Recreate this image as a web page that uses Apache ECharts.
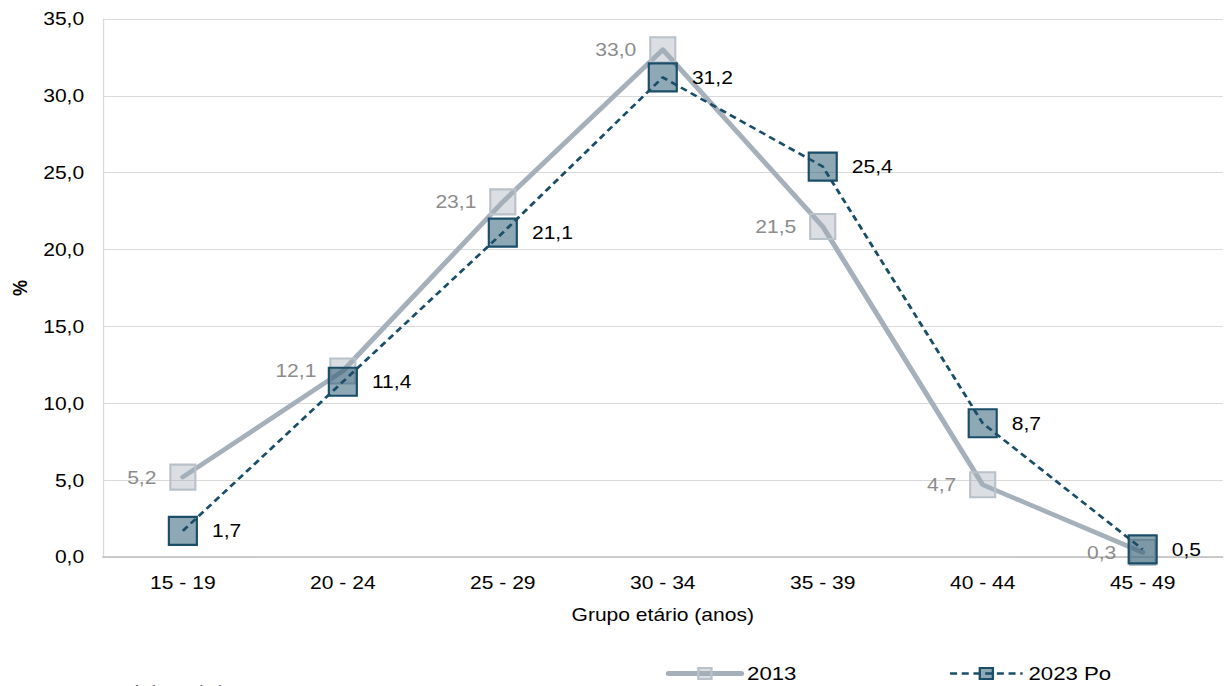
<!DOCTYPE html>
<html>
<head>
<meta charset="utf-8">
<script src="https://cdn.jsdelivr.net/npm/echarts@6/dist/echarts.min.js"></script>
<style>
  html, body { margin: 0; padding: 0; background: #fff; overflow: hidden; }
  #wrap { width: 1226px; height: 686px; overflow: hidden; }
  /* the chart is laid out on a narrower canvas and widened to get the broad lettering */
  #chart { width: 1048px; height: 686px; transform: scaleX(1.17); transform-origin: 0 0; }
</style>
</head>
<body>
<div id="wrap"><div id="chart"></div></div>
<script>
// Age groups (years)
const categories = ['15 - 19', '20 - 24', '25 - 29', '30 - 34', '35 - 39', '40 - 44', '45 - 49'];
// Percentage of births by mother's age group
const values2013 = [5.2, 12.1, 23.1, 33.0, 21.5, 4.7, 0.3];
const values2023 = [1.7, 11.4, 21.1, 31.2, 25.4, 8.7, 0.5];
const seriesNames = ['2013', '2023 Po'];
const yTicks = { min: 0, max: 35, interval: 5 };

const FONT = "'Liberation Sans', Arial, sans-serif";
const SX = 1.17; // horizontal widening of the container
const fmt = v => v.toFixed(1).replace('.', ',');

const chart = echarts.init(document.getElementById('chart'), null, { renderer: 'svg' });

chart.setOption({
  animation: false,
  backgroundColor: '#fff',
  textStyle: { fontFamily: FONT },
  grid: { left: 85, right: 3, top: 19, bottom: 129 },
  legend: {
    data: [
      { name: seriesNames[0], lineStyle: { width: 5 } },
      { name: seriesNames[1], lineStyle: { width: 2.5 } }
    ],
    left: 564,
    top: 659,
    itemWidth: 62,
    itemHeight: 14,
    itemGap: 130,
    textStyle: { fontFamily: FONT, fontSize: 19, color: '#000' }
  },
  xAxis: {
    type: 'category',
    data: categories,
    boundaryGap: true,
    name: 'Grupo etário (anos)',
    nameLocation: 'middle',
    nameGap: 49,
    nameTextStyle: { fontFamily: FONT, fontSize: 18, color: '#000' },
    axisLine: { show: true, lineStyle: { color: '#bfbfbf', width: 1.5 } },
    axisTick: { show: false },
    axisLabel: { fontFamily: FONT, fontSize: 18, color: '#000', margin: 17 },
    splitLine: { show: false }
  },
  yAxis: {
    type: 'value',
    min: yTicks.min,
    max: yTicks.max,
    interval: yTicks.interval,
    name: '%',
    nameLocation: 'middle',
    nameRotate: 90,
    nameGap: 61,
    nameTextStyle: { fontFamily: FONT, fontSize: 18, fontWeight: 'bold', color: '#000' },
    axisLine: { show: true, lineStyle: { color: '#d9d9d9', width: 1 } },
    axisTick: { show: false },
    axisLabel: { fontFamily: FONT, fontSize: 18, color: '#000', margin: 16, formatter: v => fmt(v) },
    splitLine: { show: true, lineStyle: { color: '#d9d9d9', width: 1 } }
  },
  series: [
    {
      name: seriesNames[0],
      type: 'line',
      data: values2013,
      symbol: 'rect',
      symbolSize: [25 / SX, 25],
      z: 2,
      lineStyle: { color: '#a5b0ba', width: 4.5, cap: 'round', join: 'round' },
      itemStyle: { color: 'rgba(165,176,186,0.40)', borderColor: '#b9c1c9', borderWidth: 2 },
      label: {
        show: true,
        position: 'left',
        distance: 11,
        fontFamily: FONT,
        fontSize: 18,
        color: '#8c8c8c',
        formatter: p => fmt(p.value)
      }
    },
    {
      name: seriesNames[1],
      type: 'line',
      data: values2023,
      symbol: 'rect',
      symbolSize: [28 / SX, 28],
      z: 3,
      lineStyle: { color: '#1a4e68', width: 2.5, type: [6, 4] },
      itemStyle: { color: 'rgba(26,78,104,0.49)', borderColor: '#1a4e68', borderWidth: 2 },
      label: {
        show: true,
        position: 'right',
        distance: 12,
        fontFamily: FONT,
        fontSize: 18,
        color: '#000',
        formatter: p => fmt(p.value)
      }
    }
  ],
  graphic: [
    {
      type: 'text',
      left: 0,
      top: 683,
      style: { text: 'Fonte: INE, Estatísticas Vitais', font: '15px ' + FONT, fill: '#595959' }
    }
  ]
});
</script>
</body>
</html>
